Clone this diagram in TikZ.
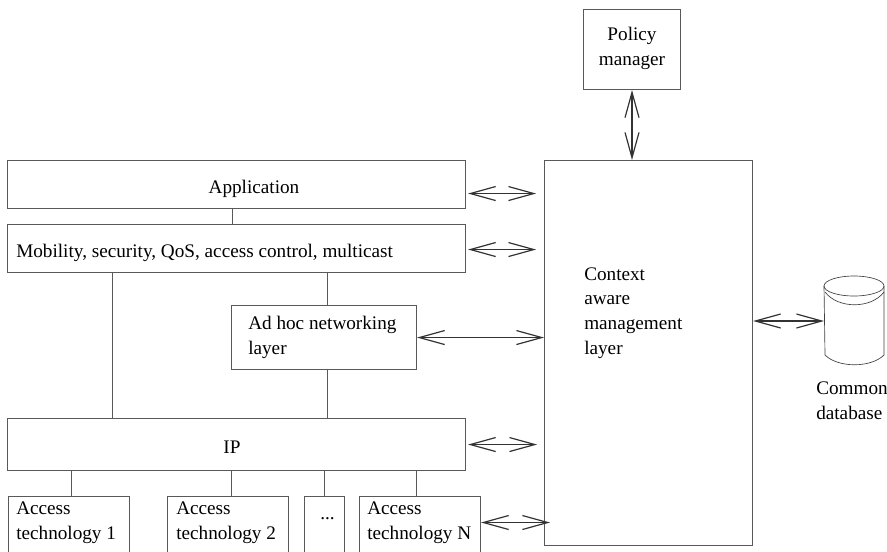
\documentclass[tikz,border=0pt]{standalone}
\usepackage{fontspec}
\setmainfont{Liberation Serif}
\usetikzlibrary{arrows.meta,calc}
\tikzset{
  x=0.75pt,y=-0.75pt,
  box/.style={draw=black!65,line width=0.8pt,rectangle,inner sep=0pt,anchor=north west},
  txt/.style={inner sep=0pt,align=left,font=\fontsize{14.4}{18.6}\selectfont},
  link/.style={draw=black!65,line width=0.8pt},
  dbl/.style={draw=black!80,line width=0.9pt,{Straight Barb[length=19pt,width=10.5pt,line width=0.9pt]}-{Straight Barb[length=19pt,width=10.5pt,line width=0.9pt]}},
  db/.style={draw=black!75,line width=0.5pt},
}
\begin{document}
\begin{tikzpicture}
\useasboundingbox (0,0) rectangle (887,551);
\node[box,minimum width=97*0.75pt,minimum height=80*0.75pt] (policy) at (583,9) {};
\node[txt,align=center] (policyt) at (632,48.5) {Policy\\manager};
\node[box,minimum width=208*0.75pt,minimum height=385*0.75pt] (ctx) at (544,160) {};
\node[txt,anchor=west] (ctxt) at (584,313) {Context\\aware\\management\\layer};
\node[box,minimum width=458*0.75pt,minimum height=48*0.75pt] (app) at (7,160) {};
\node[txt] (appt) at (254,189) {Application};
\node[box,minimum width=458*0.75pt,minimum height=48*0.75pt] (mob) at (7,224) {};
\node[txt,anchor=west] (mobt) at (16,253) {Mobility, security, QoS, access control, multicast};
\node[box,minimum width=185*0.75pt,minimum height=64*0.75pt] (adhoc) at (231,305) {};
\node[txt,anchor=west] (adhoct) at (248,337) {Ad hoc networking\\layer};
\node[box,minimum width=458*0.75pt,minimum height=52*0.75pt] (ip) at (7,418) {};
\node[txt] (ipt) at (232,447) {IP};
\node[box,minimum width=121*0.75pt,minimum height=70*0.75pt] (a1) at (8,496) {};
\node[txt,anchor=west] (a1t) at (16,523) {Access\\technology 1};
\node[box,minimum width=121*0.75pt,minimum height=70*0.75pt] (a2) at (167,496) {};
\node[txt,anchor=west] (a2t) at (176,523) {Access\\technology 2};
\node[box,minimum width=40*0.75pt,minimum height=70*0.75pt] (a3) at (304,496) {};
\node[txt,anchor=center] (a3t) at (327.5,519) {...};
\node[box,minimum width=121*0.75pt,minimum height=70*0.75pt] (an) at (359,496) {};
\node[txt,anchor=west] (ant) at (367,523) {Access\\technology N};
% database
\coordinate (dbw) at (824,321);
\draw[db] (824,286) -- (825,355) .. controls (838,368) and (871,368) .. (884,355) -- (884,286);
\draw[db] (854,286) ellipse [x radius=30,y radius=10];
\draw[db] (825,292) .. controls (838,309) and (871,309) .. (884,292);
\node[txt,anchor=west] (dbt) at (816,401) {Common\\database};
% links
\draw[link] (app.south -| 232.5,0) -- (mob.north -| 232.5,0);
\draw[link] (mob.south -| 112.5,0) -- (ip.north -| 112.5,0);
\draw[link] (mob.south -| 327.5,0) -- (adhoc.north -| 327.5,0);
\draw[link] (adhoc.south -| 327.5,0) -- (ip.north -| 327.5,0);
\draw[link] (ip.south -| 71.5,0) -- (a1.north -| 71.5,0);
\draw[link] (ip.south -| 231.5,0) -- (a2.north -| 231.5,0);
\draw[link] (ip.south -| a3.north) -- (a3.north);
\draw[link] (ip.south -| 416.5,0) -- (an.north -| 416.5,0);
% arrows
\draw[dbl] (policy.south -| 632,0) -- (ctx.north -| 632,0);
\draw[dbl] ($(app.east)+(2,9)$) -- ($(app.east)+(70,9)$);
\draw[dbl] ($(mob.east)+(2,1)$) -- ($(mob.east)+(70,1)$);
\draw[dbl] (adhoc.east) -- (adhoc.east -| ctx.west);
\draw[dbl] ($(ip.east)+(2,0)$) -- ($(ip.east)+(71,0)$);
\draw[dbl] (an.east |- 0,522.5) -- (550,522.5);
\draw[dbl] (ctx.east |- dbw) -- (dbw);
\end{tikzpicture}
\end{document}
